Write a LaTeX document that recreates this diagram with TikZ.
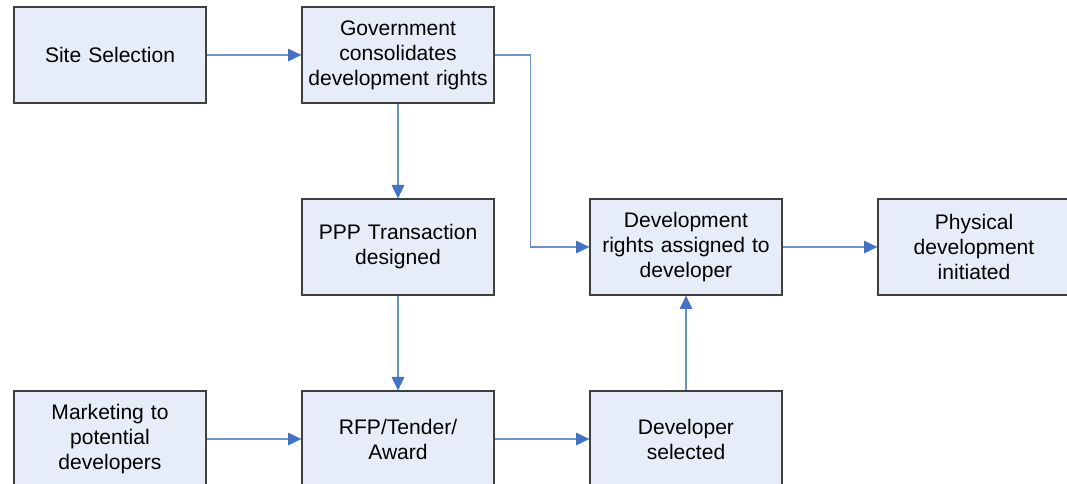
\documentclass[tikz,border=0pt]{standalone}
\usepackage{fontspec}
\setmainfont{Liberation Sans}
\usetikzlibrary{arrows.meta}
\definecolor{boxfill}{HTML}{E7EDF8}
\definecolor{boxline}{HTML}{3F3F3F}
\definecolor{linkline}{HTML}{6A91D0}
\definecolor{linktip}{HTML}{4472C4}
\begin{document}
\begin{tikzpicture}[x=0.75pt,y=-0.75pt,
  stepbox/.style={draw=boxline,line width=1pt,fill=boxfill,
    minimum width=144pt,minimum height=72pt,inner sep=2pt,
    align=center,text width=136pt,
    font=\fontsize{15.8pt}{18.75pt}\selectfont},
  link/.style={draw=linkline,line width=0.8pt,
    -{Triangle[length=10pt,width=9.5pt,fill=linktip,color=linktip]}}]
  % fixed frame of the page
  \useasboundingbox (0,0) rectangle (1067,484);
  \begin{scope}
  \clip (0,0) rectangle (1067,484);
  % top row
  \node[stepbox] (site) at (110,55) {Site Selection};
  \node[stepbox] (gov) at (398,55) {Government\\consolidates\\development rights};
  % middle row
  \node[stepbox] (ppp) at (398,247) {PPP Transaction\\designed};
  \node[stepbox] (rights) at (686,247) {Development\\rights assigned to\\developer};
  \node[stepbox] (phys) at (974,247) {Physical\\development\\initiated};
  % bottom row
  \node[stepbox] (mkt) at (110,439) {Marketing to\\potential\\developers};
  \node[stepbox] (rfp) at (398,439) {RFP/Tender/\\Award};
  \node[stepbox] (dsel) at (686,439) {Developer\\selected};
  % connectors
  \draw[link] (site) -- (gov);
  \draw[link] (gov) -- (ppp);
  \draw[link] (ppp) -- (rfp);
  \draw[link] (mkt) -- (rfp);
  \draw[link] (rfp) -- (dsel);
  \draw[link] (dsel) -- (rights);
  \draw[link] (rights) -- (phys);
  \coordinate (bend) at ([xshift=27pt]gov.east);
  \draw[link] (gov.east) -- (bend) |- (rights.west);
  \end{scope}
\end{tikzpicture}
\end{document}
